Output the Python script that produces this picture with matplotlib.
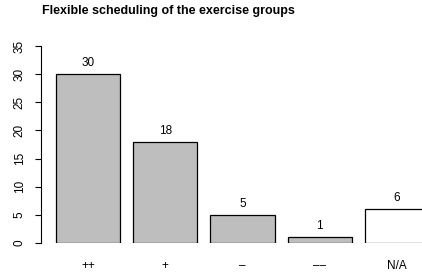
import matplotlib.pyplot as plt
import numpy as np

plt.rcParams['font.family'] = ['Liberation Sans', 'DejaVu Sans']

categories = ['++', '+', '\u2013', '\u2013\u2013', 'N/A']
counts = [30, 18, 5, 1, 6]
colors = ['#bebebe', '#bebebe', '#bebebe', '#bebebe', 'white']
title = 'Flexible scheduling of the exercise groups'

W, H = 422, 279
fig = plt.figure(figsize=(W / 100, H / 100), dpi=100)
# plot region runs past the right edge, as in the reference
ax = fig.add_axes([41 / W, 36 / H, 403 / W, 197 / H])

x = 0.7 + 1.2 * np.arange(len(counts))
ax.bar(x, counts, width=1.0, color=colors, edgecolor='black', linewidth=0.9)
for xi, c in zip(x, counts):
    ax.text(xi, c + 0.9, str(c), ha='center', va='bottom', fontsize=8.5)

ax.set_xlim(-0.032, 6.232)
ax.set_ylim(0, 35)
ax.set_yticks(range(0, 36, 5))
ax.set_yticklabels([str(v) for v in range(0, 36, 5)], rotation=90, va='center', fontsize=8.5)
ax.set_xticks(x)
ax.set_xticklabels(categories, fontsize=8.5)
ax.tick_params(axis='x', length=0, pad=12)
ax.tick_params(axis='y', length=4, width=0.8, pad=7)
for s in ['top', 'right', 'bottom']:
    ax.spines[s].set_visible(False)
ax.spines['left'].set_linewidth(0.8)

fig.text(42 / W, 1 - 11 / H, title, fontsize=9, fontweight='bold', ha='left', va='center')

fig.savefig('out.png', dpi=100)
